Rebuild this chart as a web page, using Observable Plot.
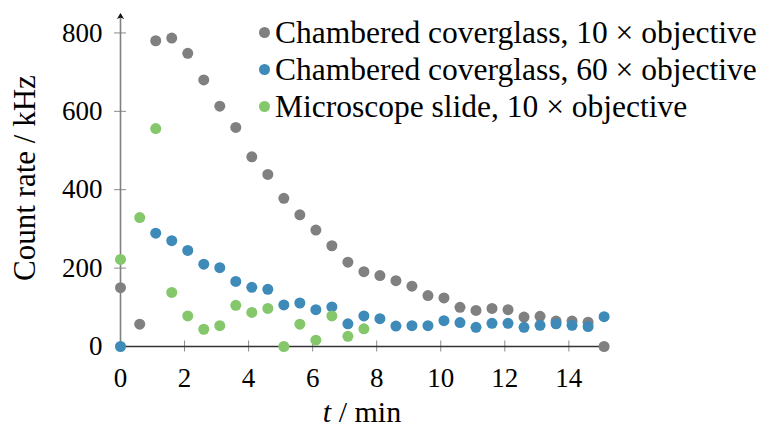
<!DOCTYPE html>
<html>
<head>
<meta charset="utf-8">
<script src="https://cdn.jsdelivr.net/npm/d3@7"></script>
<script src="https://cdn.jsdelivr.net/npm/@observablehq/plot@0.6"></script>
<style>
  html, body { margin: 0; padding: 0; background: #fff; }
  #chart { position: relative; width: 767px; height: 428px; font-family: "Liberation Serif", serif; color: #000; }
  #chart svg { position: absolute; left: 0; top: 0; }
  .legend { position: absolute; left: 258.5px; top: 13.5px; font-size: 31.5px; }
  .legend .row { display: flex; align-items: center; height: 37px; line-height: 37px; white-space: nowrap; }
  .legend .sw { width: 11px; height: 11px; border-radius: 50%; margin-right: 5.5px; flex: none; }
  .ylabel { position: absolute; left: -125px; top: 163px; width: 300px; height: 30px; line-height: 30px;
            font-size: 31px; text-align: center; transform: rotate(-90deg); white-space: nowrap; }
  .xlabel { position: absolute; left: 262px; top: 394.5px; width: 200px; height: 33px; line-height: 33px;
            font-size: 30px; text-align: center; white-space: nowrap; }
</style>
</head>
<body>
<div id="chart"></div>
<script>
// Measurement times (min)
const timeMin = [0, 0.6, 1.1, 1.6, 2.1, 2.6, 3.1, 3.6, 4.1, 4.6, 5.1, 5.6, 6.1, 6.6, 7.1, 7.6,
                 8.1, 8.6, 9.1, 9.6, 10.1, 10.6, 11.1, 11.6, 12.1, 12.6, 13.1, 13.6, 14.1, 14.6, 15.1];

// Count rates (kHz); null = no measurement at that time
const coverglass10x = [150, 57, 780, 787, 748, 680, 613, 559, 484, 439, 378, 336, 297, 257, 215, 191,
                       181, 168, 154, 130, 124, 100, 92, 97, 94, 75, 77, 65, 65, 62, 0];
const coverglass60x = [0, null, 289, 270, 245, 210, 201, 166, 151, 146, 106, 111, 94, 101, 58, 78,
                       71, 52, 53, 53, 66, 61, 49, 59, 59, 49, 54, 58, 54, 51, 76];
const slide10x = [222, 329, 556, 138, 78, 44, 53, 105, 87, 97, 0, 57, 16, 78, 26, 45];

const seriesNames = [
  "Chambered coverglass, 10 × objective",
  "Chambered coverglass, 60 × objective",
  "Microscope slide, 10 × objective"
];
const seriesColors = ["#808080", "#3e8ab9", "#84c86b"];
const seriesValues = [coverglass10x, coverglass60x, slide10x];

// Axis ticks and extents
const xTicks = [0, 2, 4, 6, 8, 10, 12, 14];
const yTicks = [0, 200, 400, 600, 800];
const xEnd = 15.1;
const yEnd = 847;

// Long-format table: one row per measured point, drawn in series order
const rows = [];
seriesValues.forEach((values, s) => {
  values.forEach((v, i) => {
    if (v != null) rows.push({t: timeMin[i], rate: v, series: seriesNames[s]});
  });
});

const axisLines = [
  {x1: 0, y1: 0, x2: xEnd, y2: 0, color: "#333333"},
  {x1: 0, y1: 0, x2: 0, y2: yEnd, color: "#808080"}
];

// Small filled arrowhead for the axis ends
function stealth(color, context) {
  const m = d3.select(context.document.createElementNS("http://www.w3.org/2000/svg", "marker"))
    .attr("viewBox", "-6 -5 10 10")
    .attr("markerWidth", 10)
    .attr("markerHeight", 10)
    .attr("markerUnits", "userSpaceOnUse")
    .attr("orient", "auto")
    .attr("refX", 0)
    .attr("refY", 0);
  m.append("path")
    .attr("d", "M-4.5,-3.6 L1.5,0 L-4.5,3.6 L-3,0 Z")
    .attr("fill", "#111")
    .attr("stroke", "none");
  return m.node();
}

const chart = Plot.plot({
  width: 767,
  height: 428,
  marginLeft: 120,
  marginRight: 163.4,
  marginTop: 14,
  marginBottom: 82,
  style: {fontFamily: "'Liberation Serif', serif", background: "transparent", overflow: "visible"},
  x: {domain: [0, xEnd], axis: null, label: null},
  y: {domain: [0, yEnd], axis: null, label: null},
  color: {domain: seriesNames, range: seriesColors},
  marks: [
    Plot.axisY(yTicks.filter(d => d !== 0), {tickSize: 12, dx: 6, stroke: "#8a8a8a", strokeWidth: 1, fill: "none", label: null}),
    Plot.axisY(yTicks, {tickSize: 0, tickPadding: 18, fontSize: 27, fill: "#000", label: null}),
    Plot.axisX(xTicks.filter(d => d !== 0), {tickSize: 11, dy: -5.5, stroke: "#8a8a8a", strokeWidth: 1, fill: "none", label: null}),
    Plot.axisX(xTicks, {tickSize: 0, tickPadding: 21.6, fontSize: 27, fill: "#000", label: null}),
    Plot.link(axisLines, {x1: "x1", y1: "y1", x2: "x2", y2: "y2", stroke: d => d.color, strokeWidth: 1.6, markerEnd: stealth}),
    Plot.dot(rows, {x: "t", y: "rate", fill: "series", r: 5.5})
  ]
});

const root = document.getElementById("chart");
root.appendChild(chart);

// Legend
const legend = document.createElement("div");
legend.className = "legend";
seriesNames.forEach((name, i) => {
  const row = document.createElement("div");
  row.className = "row";
  const sw = document.createElement("span");
  sw.className = "sw";
  sw.style.background = seriesColors[i];
  const label = document.createElement("span");
  label.textContent = name;
  row.appendChild(sw);
  row.appendChild(label);
  legend.appendChild(row);
});
root.appendChild(legend);

// Axis titles
const ylabel = document.createElement("div");
ylabel.className = "ylabel";
ylabel.textContent = "Count rate / kHz";
root.appendChild(ylabel);

const xlabel = document.createElement("div");
xlabel.className = "xlabel";
xlabel.innerHTML = "<i>t</i> / min";
root.appendChild(xlabel);
</script>
</body>
</html>
